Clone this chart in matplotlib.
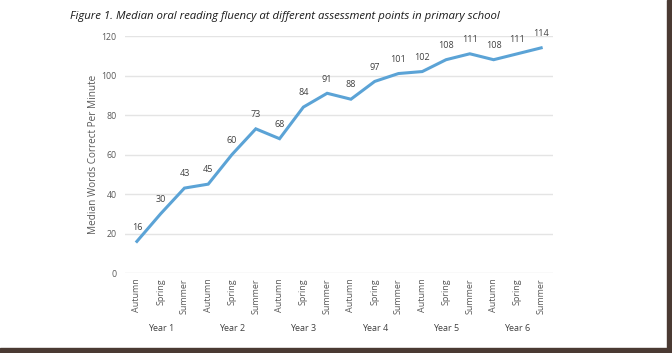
import matplotlib
matplotlib.use("Agg")
import matplotlib.pyplot as plt
from matplotlib.patches import Rectangle

terms = ["Autumn", "Spring", "Summer"] * 6
years = ["Year 1", "Year 2", "Year 3", "Year 4", "Year 5", "Year 6"]
values = [16, 30, 43, 45, 60, 73, 68, 84, 91, 88, 97, 101, 102, 108, 111, 108, 111, 114]
yticks = [0, 20, 40, 60, 80, 100, 120]

plt.rcParams['font.family'] = ['Open Sans', 'DejaVu Sans']

fig = plt.figure(figsize=(6.72, 3.53), dpi=100)
fig.patch.set_facecolor("white")
ax = fig.add_axes([0.186, 0.2266, 0.637, 0.6714])

x = list(range(len(values)))
ax.plot(x, values, color="#5ba3d6", lw=2.2, solid_joinstyle="miter", clip_on=False, zorder=3)
for xi, v in zip(x, values):
    ax.annotate(str(v), (xi, v), xytext=(0, 7), textcoords="offset points",
                ha="center", va="bottom", fontsize=6.5, color="#404040")

ax.set_xlim(-0.5, len(values) - 0.5)
ax.set_ylim(0, 120)
ax.set_yticks(yticks)
ax.set_yticklabels([str(t) for t in yticks], fontsize=6.3, color="#595959")
ax.grid(axis="y", color="#e4e4e4", lw=1.0)
ax.set_axisbelow(True)
for s in ax.spines.values():
    s.set_visible(False)
ax.tick_params(axis="both", length=0, pad=6)
ax.set_xticks(x)
ax.set_xticklabels(terms, rotation=90, fontsize=6.5, color="#595959")
ax.tick_params(axis="x", pad=4)

for i, yr in enumerate(years):
    ax.text(3 * i + 1, -0.235, yr, transform=ax.get_xaxis_transform(),
            ha="center", va="center", fontsize=6.5, color="#404040")

ax.set_ylabel("Median Words Correct Per Minute", fontsize=7.2, color="#595959", labelpad=1.5)

fig.text(0.104, 0.952, "Figure 1. Median oral reading fluency at different assessment points in primary school",
         fontsize=8.2, style="italic", color="#1a1a1a", ha="left", va="center")

# dark frame on right and bottom
fig.patches.append(Rectangle((667 / 672, 0), 5 / 672, 1, transform=fig.transFigure,
                             color="#4a3a33", zorder=10))
fig.patches.append(Rectangle((0, 0), 1, 5 / 353, transform=fig.transFigure,
                             color="#4a3a33", zorder=10))

fig.savefig("out.png", dpi=100, facecolor="white")
